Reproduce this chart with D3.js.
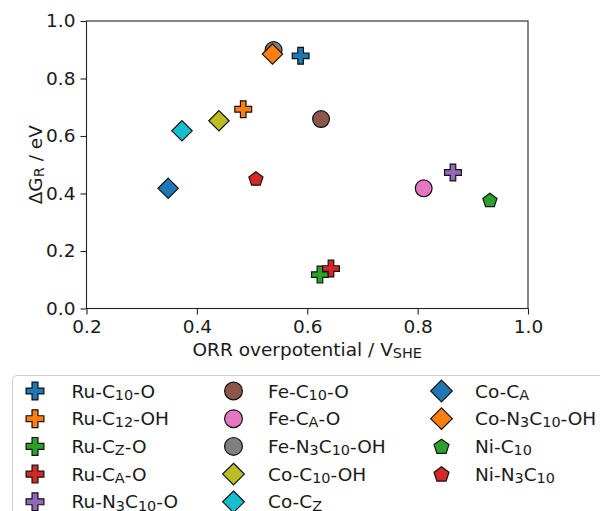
<!DOCTYPE html>
<html>
<head>
<meta charset="utf-8">
<script src="https://cdn.jsdelivr.net/npm/d3@7"></script>
<style>
  html, body { margin: 0; padding: 0; background: #fff; }
  svg { display: block; }
  text { font-family: "DejaVu Sans", sans-serif; fill: #1a1a1a; }
</style>
</head>
<body>
<svg id="chart" width="600" height="511"></svg>
<script>
// Catalysts: label (with _{...} subscripts), overpotential and reaction free energy
const labels = [
  "Ru-C_{10}-O", "Ru-C_{12}-OH", "Ru-C_{Z}-O", "Ru-C_{A}-O", "Ru-N_{3}C_{10}-O",
  "Fe-C_{10}-O", "Fe-C_{A}-O", "Fe-N_{3}C_{10}-OH", "Co-C_{10}-OH", "Co-C_{Z}",
  "Co-C_{A}", "Co-N_{3}C_{10}-OH", "Ni-C_{10}", "Ni-N_{3}C_{10}"
];
const overpotential = [0.588, 0.484, 0.623, 0.643, 0.864, 0.625, 0.811, 0.539, 0.440, 0.373, 0.348, 0.537, 0.931, 0.507];
const deltaG        = [0.879, 0.693, 0.118, 0.139, 0.473, 0.659, 0.418, 0.899, 0.653, 0.618, 0.418, 0.885, 0.377, 0.452];
const metal = ["Ru", "Ru", "Ru", "Ru", "Ru", "Fe", "Fe", "Fe", "Co", "Co", "Co", "Co", "Ni", "Ni"];

const xTicks = [0.2, 0.4, 0.6, 0.8, 1.0];
const yTicks = [0.0, 0.2, 0.4, 0.6, 0.8, 1.0];

// Styling
const palette = ["#1f77b4", "#ff7f0e", "#2ca02c", "#d62728", "#9467bd", "#8c564b",
                 "#e377c2", "#7f7f7f", "#bcbd22", "#17becf", "#1f77b4", "#ff7f0e",
                 "#2ca02c", "#d62728"];
const shapeOf = { Ru: "plus", Fe: "circle", Co: "diamond", Ni: "pentagon" };
const FONT = 18.5;

function markerPath(shape, k = 1) {
  const p = d3.path();
  if (shape === "plus") {
    const a = 8.4 * k, w = a / 3;
    const pts = [[-w,-a],[w,-a],[w,-w],[a,-w],[a,w],[w,w],[w,a],[-w,a],[-w,w],[-a,w],[-a,-w],[-w,-w]];
    p.moveTo(...pts[0]); pts.slice(1).forEach(q => p.lineTo(...q)); p.closePath();
  } else if (shape === "circle") {
    p.arc(0, 0, 8.4 * k, 0, 2 * Math.PI); p.closePath();
  } else if (shape === "diamond") {
    const r = 10.2 * k;
    p.moveTo(0, -r); p.lineTo(r, 0); p.lineTo(0, r); p.lineTo(-r, 0); p.closePath();
  } else {
    const r = 7.4 * k;
    for (let j = 0; j < 5; j++) {
      const ang = -Math.PI / 2 + j * 2 * Math.PI / 5;
      const px = r * Math.cos(ang), py = r * Math.sin(ang) + 0.6;
      if (j === 0) p.moveTo(px, py); else p.lineTo(px, py);
    }
    p.closePath();
  }
  return p.toString();
}

// Write "A_{b}C" style strings as text with lowered, smaller subscripts
function richText(sel, str, size) {
  const parts = str.split(/(_\{[^}]*\})/).filter(s => s.length);
  const drop = size * 0.12;
  let sub = false;
  parts.forEach(part => {
    if (part.startsWith("_{")) {
      sel.append("tspan").attr("font-size", size * 0.78).attr("dy", drop)
        .text(part.slice(2, -1));
      sub = true;
    } else {
      const t = sel.append("tspan").attr("font-size", size).text(part);
      if (sub) { t.attr("dy", -drop); sub = false; }
    }
  });
}

const svg = d3.select("#chart");
const plot = { left: 86.5, right: 528, top: 21, bottom: 308.5 };

const x = d3.scaleLinear().domain([0.2, 1.0]).range([plot.left, plot.right]);
const y = d3.scaleLinear().domain([0, 1.0]).range([plot.bottom, plot.top]);

// Frame
svg.append("rect")
  .attr("x", plot.left).attr("y", plot.top)
  .attr("width", plot.right - plot.left).attr("height", plot.bottom - plot.top)
  .attr("fill", "none").attr("stroke", "#222").attr("stroke-width", 1.1);

const xAxis = svg.append("g")
  .attr("transform", `translate(0,${plot.bottom})`)
  .call(d3.axisBottom(x).tickValues(xTicks).tickFormat(d3.format(".1f"))
        .tickSize(6).tickPadding(5).tickSizeOuter(0));
const yAxis = svg.append("g")
  .attr("transform", `translate(${plot.left},0)`)
  .call(d3.axisLeft(y).tickValues(yTicks).tickFormat(d3.format(".1f"))
        .tickSize(6).tickPadding(5).tickSizeOuter(0));
[xAxis, yAxis].forEach(g => {
  g.select(".domain").remove();
  g.selectAll("line").attr("stroke", "#222").attr("stroke-width", 1.1);
  g.selectAll("text").attr("font-size", FONT).attr("font-family", "DejaVu Sans, sans-serif")
    .attr("fill", "#1a1a1a");
});

// Axis titles
const xt = svg.append("text").attr("x", (plot.left + plot.right) / 2).attr("y", 356)
  .attr("text-anchor", "middle");
richText(xt, "ORR overpotential / V_{SHE}", FONT);

const yt = svg.append("text")
  .attr("transform", `translate(42,${(plot.top + plot.bottom) / 2}) rotate(-90)`)
  .attr("text-anchor", "middle");
richText(yt, "ΔG_{R} / eV", FONT);

// Points
const idx = d3.range(labels.length);
svg.append("g").selectAll("path").data(idx).join("path")
  .attr("d", i => markerPath(shapeOf[metal[i]]))
  .attr("transform", i => `translate(${x(overpotential[i])},${y(deltaG[i])})`)
  .attr("fill", i => palette[i])
  .attr("stroke", "#111").attr("stroke-width", 1.2);

// Legend
const legend = svg.append("g");
legend.append("rect")
  .attr("x", 12.5).attr("y", 375.5).attr("width", 640).attr("height", 200).attr("rx", 4)
  .attr("fill", "#fff").attr("fill-opacity", 0.8)
  .attr("stroke", "#d0d0d0").attr("stroke-width", 1);

const rows = 5;
const colMarkerX = [35, 233.5, 441.5];
const colTextX = [71.5, 268, 475];
const rowY = r => 391 + r * 27.7;

const entries = legend.selectAll("g.entry").data(idx).join("g").attr("class", "entry");
entries.append("path")
  .attr("d", i => markerPath(shapeOf[metal[i]], 1.06))
  .attr("transform", i => `translate(${colMarkerX[Math.floor(i / rows)]},${rowY(i % rows)})`)
  .attr("fill", i => palette[i])
  .attr("stroke", "#111").attr("stroke-width", 1.2);
entries.append("text")
  .attr("x", i => colTextX[Math.floor(i / rows)])
  .attr("y", i => rowY(i % rows) + 6.5)
  .each(function (i) { richText(d3.select(this), labels[i], FONT); });
</script>
</body>
</html>
